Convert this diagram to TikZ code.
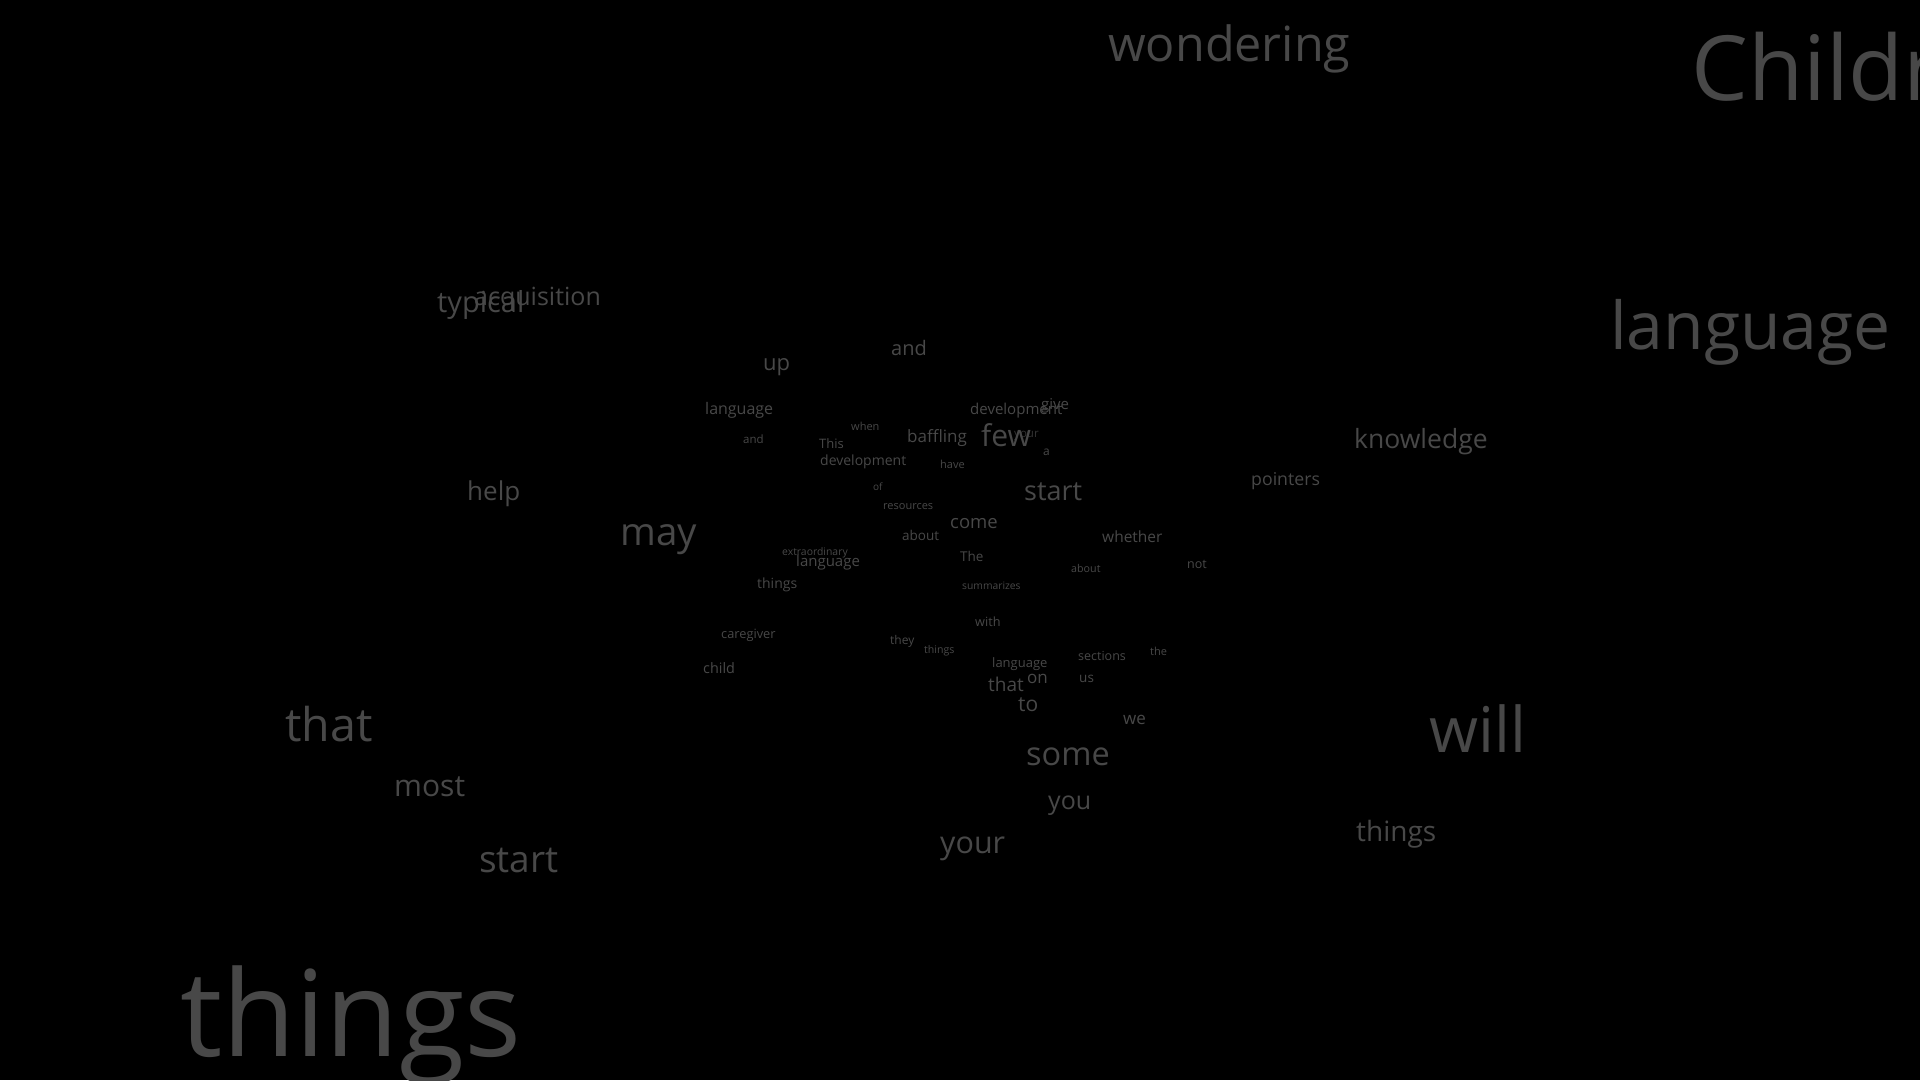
\documentclass[tikz,border=0pt]{standalone}
\usepackage{fontspec}
\setmainfont{Open Sans}
\usepackage{tikz}
\usetikzlibrary{positioning}
\definecolor{wordgray}{HTML}{484848}
\definecolor{dimgray}{HTML}{333333}
\tikzset{
word/.style = { anchor = base west, inner sep = 0pt, text = wordgray, font = \fontsize{#1}{#1}\selectfont },
dim word/.style = { word = #1, text = dimgray },
}

\begin{document}
\begin{tikzpicture}[x = 1pt, y = -1pt]
    \useasboundingbox (0, 0) rectangle (1920, 1080);
    \clip (0, 0) rectangle (1920, 1080);
    \fill[black] (0, 0) rectangle (1920, 1080);
    % large words round the edge
    \node[word = 48.5] (wondering) at (1108, 61) {wondering};
    \node[word = 90] (children) at (1691, 100) {Children};
    \node[word = 66] (language tr) at (1610, 349) {language};
    \node[word = 29] (typical) at (437, 312) {typical};
    \node[word = 25] (acquisition) at (474, 305) {acquisition};
    \node[word = 26] (help) at (467, 500) {help};
    \node[word = 38.5] (may) at (620, 545) {may};
    \node[word = 26.5] (knowledge) at (1354, 448) {knowledge};
    \node[word = 17.7] (pointers) at (1251, 485) {pointers};
    \node[word = 63] (will) at (1429, 752) {will};
    \node[word = 28] (things r) at (1356, 841) {things};
    \node[word = 46.5] (that l) at (285, 741) {that};
    \node[word = 30] (most) at (394, 796) {most};
    \node[word = 37] (start l) at (479, 872) {start};
    \node[word = 119.5] (things big) at (180, 1056) {things};
    % the cluster in the middle
    \node[word = 22] (up) at (763, 370) {up};
    \node[word = 20] (and top) at (891, 355) {and};
    \node[word = 16] (language ml) at (705, 414) {language};
    \node[word = 11.5] (and small) at (743, 443) {and};
    \node[word = 11] (when) at (851, 430) {when};
    \node[word = 13] (this) at (819, 448) {This};
    \node[word = 14] (development l) at (820, 465) {development};
    \node[word = 17] (baffling) at (907, 442) {baffling};
    \node[dim word = 11.5] (your small) at (1014, 437) {your};
    \node[word = 30] (few) at (981, 446) {few};
    \node[word = 15] (development r) at (970, 414) {development};
    \node[word = 15] (give) at (1041, 409) {give};
    \node[word = 12] (a) at (1043, 455) {a};
    \node[word = 11] (have) at (940, 468) {have};
    \node[word = 10] (of) at (873, 490) {of};
    \node[word = 11] (resources) at (883, 509) {resources};
    \node[word = 27] (start c) at (1024, 500) {start};
    \node[word = 18.5] (come) at (950, 528) {come};
    \node[word = 13.5] (about c) at (902, 540) {about};
    \node[word = 15.5] (whether) at (1102, 542) {whether};
    \node[word = 10.4] (extraordinary) at (782, 555) {extraordinary};
    \node[word = 15] (language cl) at (796, 566) {language};
    \node[word = 14] (things cl) at (757, 588) {things};
    \node[word = 13.5] (the c) at (960, 561) {The};
    \node[word = 10.7] (about r) at (1071, 572) {about};
    \node[word = 12.5] (not) at (1187, 568) {not};
    \node[word = 10.3] (summarizes) at (962, 589) {summarizes};
    \node[word = 12.7] (with) at (975, 626) {with};
    \node[word = 12.8] (caregiver) at (721, 638) {caregiver};
    \node[word = 14.4] (child) at (703, 673) {child};
    \node[word = 12] (they) at (890, 644) {they};
    \node[word = 10.6] (things small) at (924, 653) {things};
    \node[word = 13] (language lc) at (992, 667) {language};
    \node[word = 17] (on) at (1027, 683) {on};
    \node[word = 19] (that c) at (988, 691) {that};
    \node[word = 21] (to) at (1018, 711) {to};
    \node[word = 12.5] (sections) at (1078, 660) {sections};
    \node[word = 11] (the) at (1150, 655) {the};
    \node[word = 13.5] (us) at (1079, 682) {us};
    \node[word = 17] (we) at (1123, 724) {we};
    \node[word = 32.5] (some) at (1026, 765) {some};
    \node[word = 25] (you) at (1048, 809) {you};
    \node[word = 30.5] (your) at (940, 853) {your};
\end{tikzpicture}
\end{document}
